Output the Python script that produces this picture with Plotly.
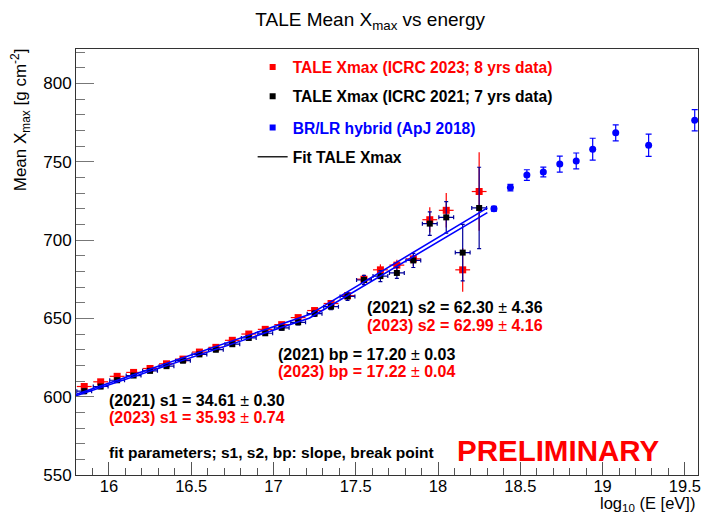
import numpy as np
import plotly.graph_objects as go

# ---- TALE Xmax data: log10(E/eV) bin centres ----
log_e_tale = [15.85, 15.95, 16.05, 16.15, 16.25, 16.35, 16.45, 16.55, 16.65,
              16.75, 16.85, 16.95, 17.05, 17.15, 17.25, 17.35, 17.45, 17.55,
              17.65, 17.75, 17.85, 17.95, 18.05, 18.15, 18.25]
log_e_half = [0.045] * 25

# ICRC 2023, 8 years of data
xmax_2023 = [606.5, 609.5, 613.0, 615.5, 618.0, 621.0, 624.0, 628.5, 631.5,
             636.0, 640.0, 643.0, 646.0, 650.5, 655.0, 659.5, 664.5, 675.0,
             681.0, 684.0, 688.0, 713.0, 719.0, 681.0, 731.0]
err_2023 = [1.5, 1.2, 1.2, 1.2, 1.2, 1.2, 1.2, 1.2, 1.2, 1.3, 1.3, 1.4, 1.5,
            1.6, 1.8, 2.0, 2.5, 3.0, 3.5, 3.5, 4.5, 8.0, 11.0, 14.0, 25.0]

# ICRC 2021, 7 years of data
xmax_2021 = [603.5, 606.5, 610.5, 613.5, 616.5, 619.5, 623.0, 627.0, 630.0,
             633.5, 637.5, 640.5, 644.0, 647.5, 653.0, 657.5, 664.0, 674.5,
             677.0, 679.0, 687.0, 710.5, 714.5, 692.0, 720.5]
err_2021 = [1.5, 1.3, 1.3, 1.2, 1.2, 1.2, 1.2, 1.2, 1.2, 1.3, 1.3, 1.4, 1.5,
            1.6, 1.8, 2.0, 2.5, 3.0, 3.5, 3.5, 4.5, 7.5, 10.0, 18.0, 26.0]

# BR/LR hybrid (ApJ 2018)
log_e_hyb = [18.34, 18.44, 18.54, 18.64, 18.74, 18.84, 18.94, 19.08, 19.28, 19.56]
xmax_hyb = [720.0, 733.5, 741.5, 743.5, 748.5, 750.5, 758.0, 768.5, 760.5, 776.5]
err_hyb = [1.5, 2.1, 3.4, 3.1, 5.1, 5.1, 7.0, 5.1, 7.1, 6.8]

# broken-line fits: slopes s1, s2, break point bp and Xmax at the break
fit_2021 = {"s1": 34.61, "s2": 62.30, "bp": 17.20, "x_bp": 649.0}
fit_2023 = {"s1": 35.93, "s2": 62.99, "bp": 17.22, "x_bp": 652.5}
fit_range = [15.8, 18.3]

x_ticks = [16, 16.5, 17, 17.5, 18, 18.5, 19, 19.5]
x_tick_text = ["16", "16.5", "17", "17.5", "18", "18.5", "19", "19.5"]
y_ticks = [550, 600, 650, 700, 750, 800]

FONT = "Liberation Sans, Arial, Helvetica, sans-serif"
RED = "#ff0000"
NAVY = "#00009a"
BLUE = "#0000ff"


def broken_line(p, x):
    x = np.asarray(x)
    return np.where(x < p["bp"],
                    p["x_bp"] + p["s1"] * (x - p["bp"]),
                    p["x_bp"] + p["s2"] * (x - p["bp"]))


fig = go.Figure()

fig.add_trace(go.Scatter(
    x=log_e_tale, y=xmax_2023, mode="markers", showlegend=False,
    marker=dict(symbol="square", size=7, color=RED),
    error_x=dict(type="data", array=log_e_half, color=RED, thickness=1.2, width=0),
    error_y=dict(type="data", array=err_2023, color=RED, thickness=1.2, width=0),
))
fig.add_trace(go.Scatter(
    x=log_e_tale, y=xmax_2021, mode="markers", showlegend=False,
    marker=dict(symbol="square", size=6, color="black"),
    error_x=dict(type="data", array=log_e_half, color=NAVY, thickness=1.2, width=2),
    error_y=dict(type="data", array=err_2021, color=NAVY, thickness=1.2, width=2),
))

fit_x = np.linspace(fit_range[0], fit_range[1], 400)
for p in (fit_2021, fit_2023):
    fig.add_trace(go.Scatter(
        x=fit_x, y=broken_line(p, fit_x), mode="lines", showlegend=False,
        line=dict(color=BLUE, width=1.6),
    ))

fig.add_trace(go.Scatter(
    x=log_e_hyb, y=xmax_hyb, mode="markers", showlegend=False,
    marker=dict(symbol="circle", size=7, color=BLUE),
    error_y=dict(type="data", array=err_hyb, color=BLUE, thickness=1.2, width=3),
))

# legend entries
legend_items = [
    ("TALE Xmax (ICRC 2023; 8 yrs data)", RED, "markers", "legend", 0.957),
    ("TALE Xmax (ICRC 2021; 7 yrs data)", "black", "markers", "legend2", 0.888),
    ("BR/LR hybrid (ApJ 2018)", BLUE, "markers", "legend3", 0.815),
    ("Fit TALE Xmax", "black", "lines", "legend4", 0.746),
]
legend_layout = {}
for name, col, mode, lg, ypos in legend_items:
    fig.add_trace(go.Scatter(
        x=[None], y=[None], mode=mode, name=name, legend=lg,
        marker=dict(symbol="square", size=6, color=col),
        line=dict(color="#222222", width=1.5),
    ))
    legend_layout[lg] = dict(
        x=0.284, y=ypos, xanchor="left", yanchor="middle",
        bgcolor="rgba(0,0,0,0)", borderwidth=0,
        font=dict(family=FONT, size=15.6, color=col, weight="bold"),
    )

# fit results and labels
notes = [
    ("<b>(2021) s2 = 62.30 </b>±<b> 4.36</b>", "black", 366, 307, 16),
    ("<b>(2023) s2 = 62.99 </b>±<b> 4.16</b>", RED, 366, 325, 16),
    ("<b>(2021) bp = 17.20 </b>±<b> 0.03</b>", "black", 277, 354, 16),
    ("<b>(2023) bp = 17.22 </b>±<b> 0.04</b>", RED, 277, 371, 16),
    ("<b>(2021) s1 = 34.61 </b>±<b> 0.30</b>", "black", 107, 400, 16),
    ("<b>(2023) s1 = 35.93 </b>±<b> 0.74</b>", RED, 107, 417, 16),
    ("<b>fit parameters; s1, s2, bp: slope, break point</b>", "black", 107, 452, 15.5),
    ("<b>PRELIMINARY</b>", RED, 457, 450, 29.5),
]
PL, PR, PT, PB = 76, 701, 49, 475
annotations = []
for txt, col, px, py, fs in notes:
    annotations.append(dict(
        text=txt, xref="paper", yref="paper",
        x=(px - PL) / (PR - PL), y=(PB - py) / (PB - PT),
        xanchor="left", yanchor="middle", showarrow=False,
        font=dict(family=FONT, size=fs, color=col),
    ))

# axis titles
annotations.append(dict(
    text="Mean X<sub>max</sub> [g cm<sup>-2</sup>]", xref="paper", yref="paper",
    x=(21 - PL) / (PR - PL), y=(PB - 120) / (PB - PT), textangle=-90,
    xanchor="center", yanchor="middle", showarrow=False,
    font=dict(family=FONT, size=17, color="black"),
))
annotations.append(dict(
    text="log<sub>10</sub> (E [eV])", xref="paper", yref="paper",
    x=(700 - PL) / (PR - PL), y=(PB - 516) / (PB - PT),
    xanchor="right", yanchor="bottom", showarrow=False,
    font=dict(family=FONT, size=16.5, color="black"),
))

fig.update_layout(
    width=705, height=517,
    margin=dict(l=PL, r=705 - PR, t=PT, b=517 - PB),
    paper_bgcolor="white", plot_bgcolor="white",
    title=dict(text="TALE Mean X<sub>max</sub> vs energy", x=0.525, xanchor="center",
               y=0.962, yanchor="middle",
               font=dict(family=FONT, size=19, color="black")),
    font=dict(family=FONT, size=17, color="black"),
    annotations=annotations,
    **legend_layout,
)
fig.update_xaxes(
    range=[15.8, 19.58], tickmode="array", tickvals=x_ticks, ticktext=x_tick_text,
    ticks="inside", ticklen=13, tickcolor="#555555", tickwidth=1,
    ticklabelstandoff=-4,
    minor=dict(tickmode="linear", tick0=16, dtick=0.1, ticks="inside",
               ticklen=7, tickcolor="#555555"),
    showline=True, mirror=True, linecolor="#333333", linewidth=1,
    showgrid=False, zeroline=False,
    tickfont=dict(family=FONT, size=16.5, color="black"),
)
fig.update_yaxes(
    range=[550, 822], tickmode="array", tickvals=y_ticks,
    ticks="inside", ticklen=18, tickcolor="#777777", tickwidth=1,
    minor=dict(tickmode="linear", tick0=550, dtick=10, ticks="inside",
               ticklen=9, tickcolor="#777777"),
    showline=True, mirror=True, linecolor="#333333", linewidth=1,
    showgrid=False, zeroline=False,
    tickfont=dict(family=FONT, size=17, color="black"),
)

fig.write_html("out.html")
